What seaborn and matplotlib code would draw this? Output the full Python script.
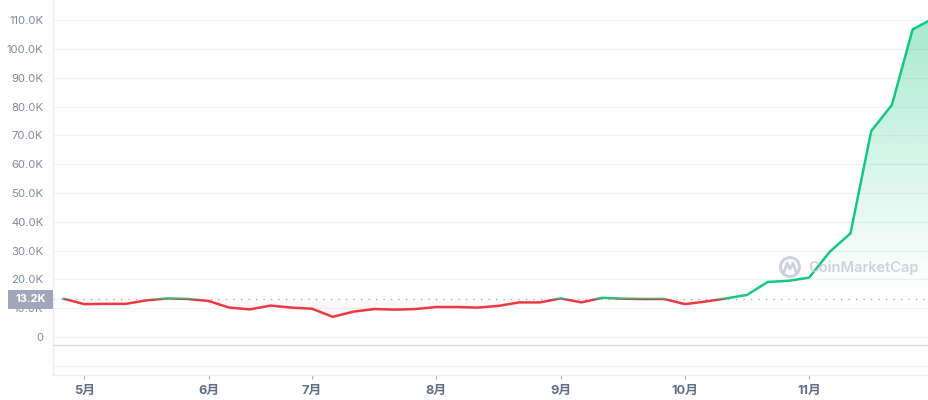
import numpy as np
import matplotlib.pyplot as plt
import seaborn as sns
from matplotlib.patches import Rectangle, Circle
from matplotlib.path import Path
from matplotlib.ticker import FuncFormatter

# ---------------- ДАНІ ---------------- #

# ціна, по точці кожні ~5 днів
prices = [13.3, 11.4, 11.5, 11.5, 12.7, 13.4, 13.2, 12.5, 10.2, 9.6,
          10.9, 10.2, 9.8, 7.0, 8.8, 9.7, 9.5, 9.7, 10.4, 10.4,
          10.2, 10.8, 12.0, 12.0, 13.4, 12.0, 13.6, 13.3, 13.2, 13.2,
          11.4, 12.3, 13.4, 14.6, 19.1, 19.5, 20.6, 29.6, 36.0, 71.5,
          80.6, 106.8, 110.6]
prices = np.array(prices) * 1000

month_pos = [1, 7, 12, 18, 24, 30, 36]
month_labels = ["5月", "6月", "7月", "8月", "9月", "10月", "11月"]

y_ticks = np.arange(0, 110001, 10000)
baseline = 13200
baseline_label = "13.2K"

GREEN = "#16c784"
RED = "#ea3943"
GRID = "#eff2f5"
TXT = "#808a9d"

# ---------------- ГРАФІК ---------------- #

sns.set_theme(style="white")
plt.rcParams['font.family'] = ['Inter', 'Noto Sans CJK SC', 'DejaVu Sans']

fig = plt.figure(figsize=(9.29, 4.0), dpi=100)
ax = fig.add_axes([53 / 929, 25 / 400, 876 / 929, 375 / 400])

x = np.arange(len(prices))
xlim = (-0.51, 41.79)
ylim = (-13200, 117000)

for v in list(y_ticks) + [-10000]:
    ax.axhline(v, color=GRID, lw=0.9, zorder=0)
ax.axhline(-2800, color="#d5d9e0", lw=1.0, zorder=1)

# заливка: зелений градієнт над базою
poly = ax.fill_between(x, prices, baseline, where=prices >= baseline,
                       interpolate=True, color="none", lw=0)
clip_path = Path.make_compound_path(*poly.get_paths())
grad = np.zeros((256, 1, 4))
grad[:, 0, :3] = np.array([0x16, 0xc7, 0x84]) / 255
grad[:, 0, 3] = np.linspace(0.0, 0.42, 256) ** 1.1
im = ax.imshow(grad, extent=[xlim[0], xlim[1], baseline, 112000],
               origin="lower", aspect="auto", zorder=1)
im.set_clip_path(clip_path, transform=ax.transData)

# червона заливка під базою (ледь помітна)
ax.fill_between(x, prices, baseline, where=prices < baseline,
                interpolate=True, color=RED, alpha=0.035, lw=0, zorder=1)

# лінія: два проходи з різним кліпом
for col, lo, hi in [(GREEN, baseline, 200000), (RED, -50000, baseline)]:
    before = len(ax.lines)
    sns.lineplot(x=x, y=prices, ax=ax, color=col, lw=1.8, zorder=3)
    clip = Rectangle((-5, lo), 60, hi - lo, transform=ax.transData,
                     fill=False, lw=0)
    ax.add_patch(clip)
    for ln in ax.lines[before:]:
        ln.set_clip_path(clip)
        ln.set_solid_joinstyle("round")

ax.axhline(baseline, color="#9aa1b2", lw=0.9, ls=(0, (1, 5)), zorder=2)

ax.set_xlim(*xlim)
ax.set_ylim(*ylim)

ax.set_xticks(month_pos)
ax.set_xticklabels(month_labels, fontsize=9.2, fontweight="bold", color="#616e85")
ax.set_yticks(y_ticks)
ax.yaxis.set_major_formatter(FuncFormatter(
    lambda v, p: "0" if v == 0 else f"{v / 1000:.1f}K"))
ax.tick_params(axis="y", length=0, pad=7, labelsize=8.2, labelcolor=TXT)
ax.tick_params(axis="x", length=3, width=0.8, color="#a6b0c3", pad=4,
               direction="out", bottom=True)

for s in ["top", "right"]:
    ax.spines[s].set_visible(False)
for s in ["left", "bottom"]:
    ax.spines[s].set_color("#eceff3")
    ax.spines[s].set_linewidth(1.0)

# ---------------- НАКЛАДКА (мітка бази, водяний знак) ---------------- #

ov = fig.add_axes([0, 0, 1, 1], facecolor="none")
ov.set_xlim(0, 929)
ov.set_ylim(400, 0)
ov.axis("off")

ov.add_patch(Rectangle((8, 290), 45, 18.5, color="#a1a7bb", lw=0, zorder=5))
ov.text(30.5, 299.5, baseline_label, ha="center", va="center", color="white",
        fontsize=8, fontweight="bold", zorder=6)

ov.add_patch(Circle((790, 267), 9.5, fill=False, lw=2.2, ec="#c9cedb", alpha=0.9))
ov.plot([784, 787, 790, 793, 796], [272, 263, 269, 263, 272],
        color="#c9cedb", lw=2, alpha=0.9, solid_capstyle="round")
ov.text(808, 268, "CoinMarketCap", ha="left", va="center", fontsize=10.5,
        fontweight="semibold", color="#c9cedb", alpha=0.9)

plt.savefig("out.png", dpi=100)
plt.close()
